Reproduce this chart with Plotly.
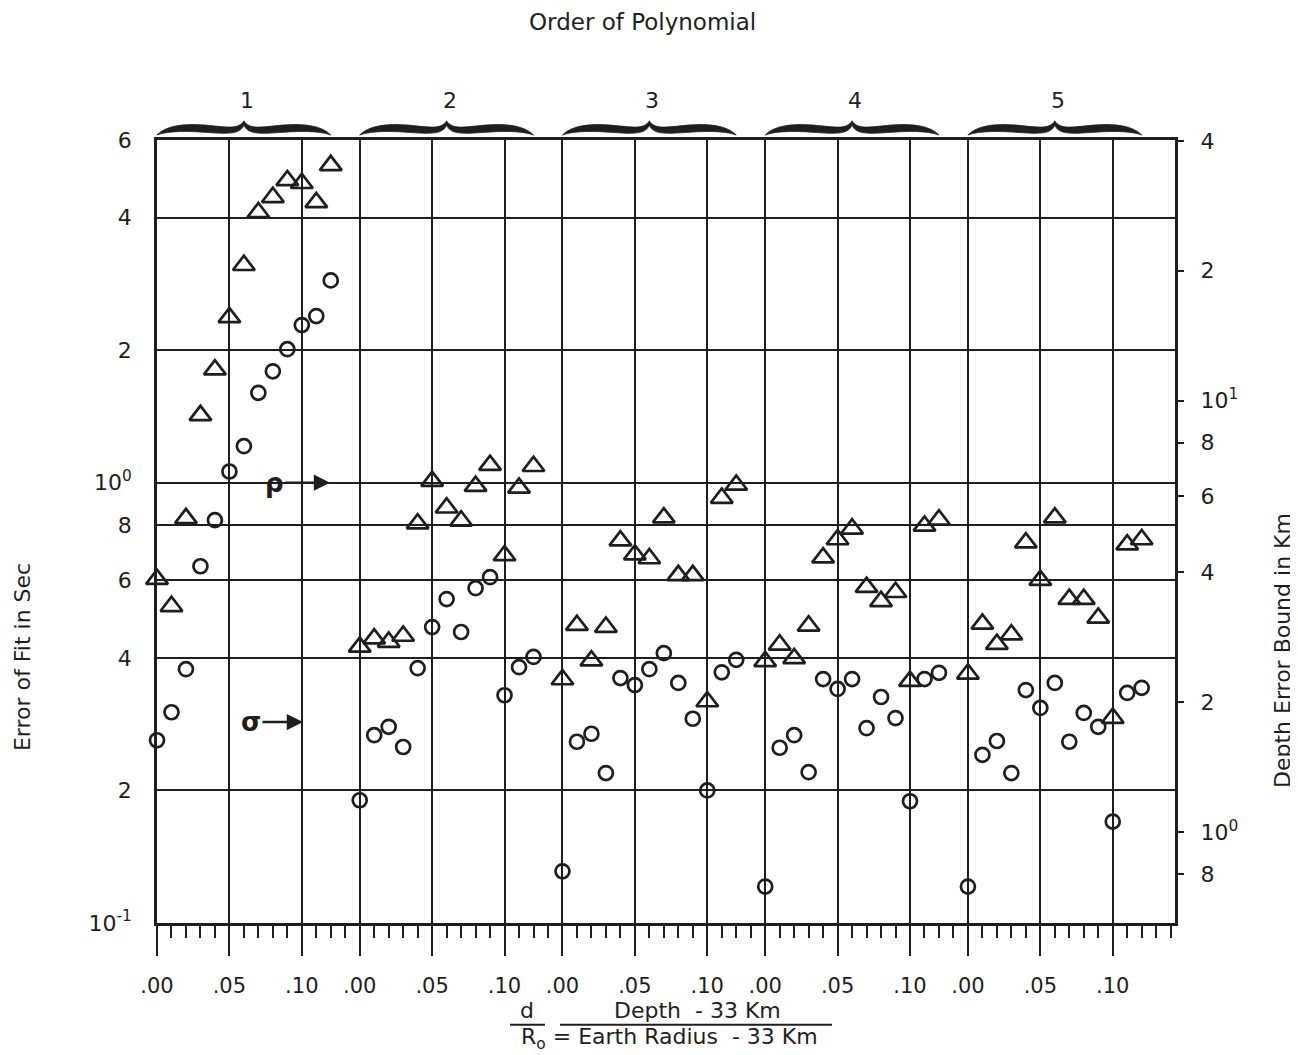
"""Error of fit (circles) and depth error bound (triangles) vs d/Ro for polynomial orders 1-5."""

import plotly.graph_objects as go

ORDERS = [1, 2, 3, 4, 5]
D_OVER_RO = [0.00, 0.01, 0.02, 0.03, 0.04, 0.05, 0.06, 0.07, 0.08, 0.09, 0.10, 0.11, 0.12]

# Error of fit in sec (circles, left axis)
FIT_ERR_1 = [0.260, 0.301, 0.377, 0.646, 0.822, 1.06, 1.21, 1.60, 1.79, 2.01, 2.28, 2.39, 2.88]
FIT_ERR_2 = [0.190, 0.267, 0.279, 0.251, 0.379, 0.470, 0.544, 0.458, 0.576, 0.610, 0.329, 0.381, 0.402]
FIT_ERR_3 = [0.131, 0.258, 0.269, 0.219, 0.360, 0.347, 0.377, 0.410, 0.351, 0.291, 0.200, 0.371, 0.396]
FIT_ERR_4 = [0.121, 0.250, 0.267, 0.220, 0.358, 0.340, 0.358, 0.277, 0.326, 0.292, 0.189, 0.358, 0.370]
FIT_ERR_5 = [0.121, 0.241, 0.259, 0.219, 0.338, 0.308, 0.351, 0.258, 0.300, 0.279, 0.170, 0.333, 0.342]

# Depth error bound in km (triangles, right axis)
DEPTH_ERR_1 = [3.86, 3.34, 5.34, 9.25, 11.8, 15.6, 20.6, 27.3, 29.6, 32.4, 31.9, 28.8, 35.1]
DEPTH_ERR_2 = [2.69, 2.81, 2.76, 2.85, 5.19, 6.51, 5.65, 5.27, 6.34, 7.09, 4.38, 6.28, 7.05]
DEPTH_ERR_3 = [2.26, 3.02, 2.50, 2.99, 4.74, 4.40, 4.31, 5.36, 3.94, 3.94, 2.01, 5.95, 6.38]
DEPTH_ERR_4 = [2.49, 2.72, 2.53, 3.01, 4.33, 4.77, 5.05, 3.70, 3.43, 3.60, 2.24, 5.13, 5.30]
DEPTH_ERR_5 = [2.33, 3.04, 2.73, 2.87, 4.69, 3.84, 5.36, 3.47, 3.47, 3.14, 1.84, 4.64, 4.77]

FIT_ERR = [FIT_ERR_1, FIT_ERR_2, FIT_ERR_3, FIT_ERR_4, FIT_ERR_5]
DEPTH_ERR = [DEPTH_ERR_1, DEPTH_ERR_2, DEPTH_ERR_3, DEPTH_ERR_4, DEPTH_ERR_5]

X_TICK_LABELS = [".00", ".05", ".10"]
LEFT_TICKS = [0.1, 0.2, 0.4, 0.6, 0.8, 1, 2, 4, 6]
LEFT_TICK_TEXT = ["10<sup>-1</sup>", "2", "4", "6", "8", "10<sup>0</sup>", "2", "4", "6"]
RIGHT_TICKS = [0.8, 1, 2, 4, 6, 8, 10, 20, 40]
RIGHT_TICK_TEXT = ["8", "10<sup>0</sup>", "2", "4", "6", "8", "10<sup>1</sup>", "2", "4"]

GROUP_SPAN = 0.14  # each order block is 14 hundredths wide on the shared axis
INK = "#1e1e1e"
FONT = "'DejaVu Sans', Lato, sans-serif"


def brace_path(x0, x1):
    """Filled horizontal curly brace, x in data units, y in paper units."""
    w = x1 - x0

    def X(f):
        return f"{x0 + f * w:.5f}"

    return (
        f"M{X(0)},1.0064 "
        f"C{X(0.05)},1.018 {X(0.15)},1.0215 {X(0.28)},1.019 "
        f"C{X(0.40)},1.0165 {X(0.47)},1.013 {X(0.5)},1.0245 "
        f"C{X(0.53)},1.013 {X(0.60)},1.0165 {X(0.72)},1.019 "
        f"C{X(0.85)},1.0215 {X(0.95)},1.018 {X(1)},1.0064 "
        f"C{X(0.93)},1.012 {X(0.82)},1.0115 {X(0.70)},1.0095 "
        f"C{X(0.58)},1.0075 {X(0.52)},1.008 {X(0.5)},1.019 "
        f"C{X(0.48)},1.008 {X(0.42)},1.0075 {X(0.30)},1.0095 "
        f"C{X(0.18)},1.0115 {X(0.07)},1.012 {X(0)},1.0064 Z"
    )


def text_note(x, y, text, size=20, angle=0):
    return dict(x=x, y=y, xref="paper", yref="paper", text=text, textangle=angle,
                xanchor="center", yanchor="middle", showarrow=False,
                font=dict(size=size, color=INK))


def build_figure():
    fig = go.Figure()

    for i, order in enumerate(ORDERS):
        off = (order - 1) * GROUP_SPAN
        xs = [off + d for d in D_OVER_RO]
        fig.add_trace(
            go.Scatter(
                x=xs, y=FIT_ERR[i], mode="markers", yaxis="y",
                marker=dict(symbol="circle-open", size=14, color=INK, line=dict(width=2.7, color=INK)),
                cliponaxis=False, showlegend=False,
                hovertemplate=f"order {order}<br>σ=%{{y}} s<extra></extra>",
            )
        )
        fig.add_trace(
            go.Scatter(
                x=xs, y=DEPTH_ERR[i], mode="markers", yaxis="y2",
                marker=dict(symbol="triangle-up-open", size=19, color=INK, line=dict(width=2.7, color=INK)),
                cliponaxis=False, showlegend=False,
                hovertemplate=f"order {order}<br>%{{y}} km<extra></extra>",
            )
        )

    major_vals, major_text = [], []
    for order in ORDERS:
        off = (order - 1) * GROUP_SPAN
        major_vals += [off, off + 0.05, off + 0.10]
        major_text += X_TICK_LABELS
    minor_vals = [round(k * 0.01, 4) for k in range(71)]

    shapes = []
    annotations = []
    for order in ORDERS:
        off = (order - 1) * GROUP_SPAN
        shapes.append(dict(
            type="path", xref="x", yref="paper", path=brace_path(off, off + 0.12),
            fillcolor=INK, line=dict(color=INK, width=0.8), layer="above",
        ))
        annotations.append(dict(
            x=off + 0.062, y=1.051, xref="x", yref="paper", text=str(order),
            xanchor="center", yanchor="middle", showarrow=False,
            font=dict(size=22, color=INK),
        ))

    # fraction lines of the x-axis caption
    for x0, x1 in [(0.3468, 0.3811), (0.3959, 0.6631)]:
        shapes.append(dict(type="line", xref="paper", yref="paper", x0=x0, x1=x1,
                           y0=-0.1300, y1=-0.1300, line=dict(color=INK, width=2)))

    annotations += [
        text_note(0.4774, 1.1507, "Order of Polynomial", size=23),
        text_note(-0.1326, 0.3397, "Error of Fit in Sec", size=22, angle=-90),
        text_note(1.1061, 0.3474, "Depth Error Bound in Km", size=22, angle=-90),
        text_note(0.3635, -0.1120, "d", size=22),
        text_note(0.5314, -0.1120, "Depth  - 33 Km", size=22),
        text_note(0.5030, -0.1475, "R<sub>o</sub> = Earth Radius  - 33 Km", size=22),
        # series markers with arrows
        dict(x=0.1195, y=0, xref="x", yref="y", ax=-56, ay=0, text="<b>ρ</b>",
             showarrow=True, arrowhead=2, arrowsize=1.3, arrowwidth=2.5, arrowcolor=INK,
             font=dict(size=26, color=INK)),
        dict(x=0.1008, y=-0.5436, xref="x", yref="y", ax=-52, ay=0, text="<b>σ</b>",
             showarrow=True, arrowhead=2, arrowsize=1.3, arrowwidth=2.5, arrowcolor=INK,
             font=dict(size=26, color=INK)),
    ]

    # page body adds an 8px margin, so trim the figure by that much
    fig.update_layout(
        width=1290, height=1047,
        margin=dict(l=149, r=123, t=132, b=132),
        paper_bgcolor="white", plot_bgcolor="white",
        font=dict(family=FONT, color=INK),
        shapes=shapes, annotations=annotations,
        xaxis=dict(
            range=[0, 0.703], tickmode="array", tickvals=major_vals, ticktext=major_text,
            ticks="outside", ticklen=30, tickwidth=2, tickcolor=INK, ticklabelstandoff=12,
            tickfont=dict(size=21, color=INK),
            showgrid=True, gridcolor=INK, gridwidth=2,
            showline=True, linecolor=INK, linewidth=2.5, mirror=True, zeroline=False,
            minor=dict(tickmode="array", tickvals=minor_vals, ticks="outside", ticklen=12,
                       tickwidth=2, tickcolor=INK, showgrid=False),
        ),
        yaxis=dict(
            type="log", range=[-1, 0.7782], tickmode="array", tickvals=LEFT_TICKS,
            ticktext=LEFT_TICK_TEXT, ticks="", ticklabelstandoff=18,
            tickfont=dict(size=22, color=INK),
            showgrid=True, gridcolor=INK, gridwidth=2,
            showline=True, linecolor=INK, linewidth=2.5, mirror=True, zeroline=False,
        ),
        yaxis2=dict(
            type="log", overlaying="y", side="right", range=[-0.21, 1.604],
            tickmode="array", tickvals=RIGHT_TICKS, ticktext=RIGHT_TICK_TEXT,
            ticks="outside", ticklen=8, tickwidth=2, tickcolor=INK, ticklabelstandoff=12,
            tickfont=dict(size=22, color=INK),
            showgrid=False, showline=False, zeroline=False,
        ),
    )
    return fig


def main():
    fig = build_figure()
    fig.write_html("out.html")


if __name__ == "__main__":
    main()
